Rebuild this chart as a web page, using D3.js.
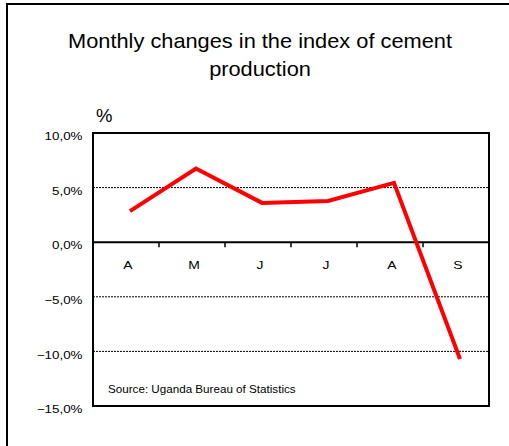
<!DOCTYPE html>
<html>
<head>
<meta charset="utf-8">
<script src="https://cdn.jsdelivr.net/npm/d3@7"></script>
<style>
  html, body { margin: 0; padding: 0; background: #fff; }
  svg { display: block; font-family: "Liberation Sans", Arial, sans-serif; }
</style>
</head>
<body>
<svg id="chart" width="509" height="446"></svg>
<script>
// chart data
const months = ["A", "M", "J", "J", "A", "S"];
const changes = [2.85, 6.75, 3.6, 3.78, 5.43, -10.7];
const yTicks = [10, 5, 0, -5, -10, -15];
const titleLines = ["Monthly changes in the index of cement", "production"];
const sourceText = "Source: Uganda Bureau of Statistics";

const svg = d3.select("#chart");
const m = { top: 133, right: 20, bottom: 40, left: 93 };
const W = 509 - m.left - m.right;   // 396
const H = 406 - m.top;              // 273

// the original export is a bit wider than tall, so text gets a horizontal stretch
const stretch = (sx) => `scale(${sx},1)`;

// outer frame (runs past the right and bottom edges)
svg.append("rect")
    .attr("x", 7).attr("y", 4).attr("width", 540).attr("height", 480)
    .attr("fill", "none").attr("stroke", "#000").attr("stroke-width", 2);

// title
svg.append("g").selectAll("text").data(titleLines).join("text")
    .attr("transform", (d, i) => `translate(260,${48 + i * 28}) ${stretch(1.09)}`)
    .attr("text-anchor", "middle")
    .attr("font-size", 20)
    .attr("fill", "#000")
    .text(d => d);

svg.append("text").attr("x", 96).attr("y", 122)
    .attr("font-size", 18.5).text("%");

const g = svg.append("g").attr("transform", `translate(${m.left},${m.top})`);

const x = d3.scaleBand().domain(d3.range(months.length)).range([0, W]);
const y = d3.scaleLinear().domain([-15, 10]).range([H, 0]);

// dashed gridlines
g.append("g").selectAll("line").data(yTicks.filter(d => d !== 0 && d !== 10 && d !== -15))
    .join("line")
    .attr("x1", 0).attr("x2", W)
    .attr("y1", d => y(d)).attr("y2", d => y(d))
    .attr("stroke", "#000").attr("stroke-width", 1)
    .attr("stroke-dasharray", "2,1");

// plot border
g.append("rect").attr("x", 0).attr("y", 0).attr("width", W).attr("height", H)
    .attr("fill", "none").attr("stroke", "#000").attr("stroke-width", 2);

// y axis labels
const yAxis = d3.axisLeft(y).tickValues(yTicks).tickSize(0)
    .tickFormat(d => d3.format(".1f")(d).replace(".", ",") + "%");
g.append("g").call(yAxis)
    .call(a => a.select(".domain").remove())
    .selectAll("text")
    .attr("x", 0).attr("dy", 0)
    .attr("transform", `translate(-10.5,6.6) ${stretch(1.25)}`)
    .attr("font-size", 10.7)
    .attr("font-family", "Liberation Sans, Arial, sans-serif")
    .attr("fill", "#000");

// zero line with category ticks
const zero = g.append("g").attr("transform", `translate(0,${y(0)})`);
zero.append("line").attr("x1", 0).attr("x2", W)
    .attr("stroke", "#000").attr("stroke-width", 2);
zero.selectAll("line.tick").data(d3.range(months.length + 1))
    .join("line").attr("class", "tick")
    .attr("x1", d => d * x.bandwidth()).attr("x2", d => d * x.bandwidth())
    .attr("y1", 0).attr("y2", 5)
    .attr("stroke", "#000").attr("stroke-width", 1.5);
zero.selectAll("text").data(months).join("text")
    .attr("transform", (d, i) => `translate(${x(i) + x.bandwidth() / 2 + 2},27) ${stretch(1.2)}`)
    .attr("text-anchor", "middle")
    .attr("font-size", 11.6)
    .text(d => d);

// red series line (points sit a little right of the band centres)
const shift = 4;
const line = d3.line()
    .x((d, i) => x(i) + x.bandwidth() / 2 + shift)
    .y(d => y(d));
g.append("path").datum(changes)
    .attr("d", line)
    .attr("fill", "none")
    .attr("stroke", "#ff0000")
    .attr("stroke-width", 4)
    .attr("stroke-linejoin", "miter");

// source note
g.append("text")
    .attr("transform", `translate(15,${H - 13.5}) ${stretch(1.11)}`)
    .attr("font-size", 10.5).text(sourceText);
</script>
</body>
</html>
